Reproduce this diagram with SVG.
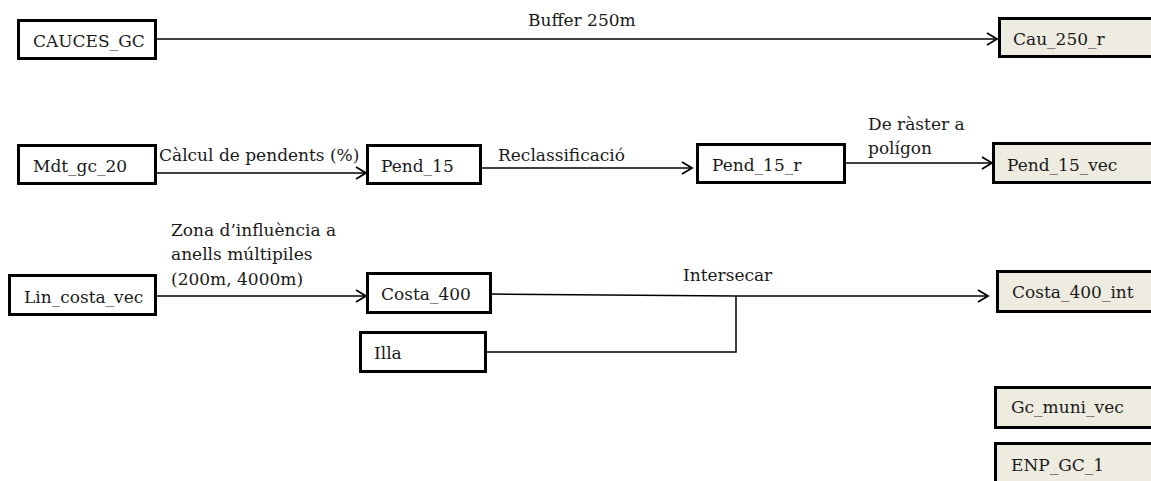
<svg xmlns="http://www.w3.org/2000/svg" width="1151" height="481" viewBox="0 0 1151 481">
<style>
  .box { fill: #ffffff; stroke: #000000; stroke-width: 3; }
  .out { fill: #EEECE1; stroke: #000000; stroke-width: 3; }
  text { font-family: "DejaVu Serif", "Liberation Serif", serif; font-size: 17px; fill: #1a1a1a; }
  .conn { fill: none; stroke: #000000; stroke-width: 1.5; }
</style>
<defs>
  <marker id="arr" markerUnits="userSpaceOnUse" markerWidth="14" markerHeight="16" refX="11" refY="7" orient="auto">
    <path d="M1,1 L11,7 L1,13" fill="none" stroke="#000000" stroke-width="1.8"/>
  </marker>
</defs>
<rect width="1151" height="481" fill="#ffffff"/>

<g id="connectors">
  <line class="conn" x1="156" y1="39" x2="997" y2="39" marker-end="url(#arr)"/>
  <line class="conn" x1="156" y1="173" x2="366" y2="173" marker-end="url(#arr)"/>
  <line class="conn" x1="481" y1="168" x2="692" y2="168" marker-end="url(#arr)"/>
  <line class="conn" x1="845" y1="163" x2="992" y2="163" marker-end="url(#arr)"/>
  <line class="conn" x1="156" y1="296" x2="366" y2="296" marker-end="url(#arr)"/>
  <polyline class="conn" points="491,294 736,296"/>
  <polyline class="conn" points="486,352 736,352 736,296"/>
  <line class="conn" x1="736" y1="296" x2="988" y2="296" marker-end="url(#arr)"/>
  <text x="528" y="26">Buffer 250m</text>
  <text x="159" y="161">Càlcul de pendents (%)</text>
  <text x="498" y="161">Reclassificació</text>
  <text x="868" y="129.5">De ràster a</text>
  <text x="868" y="153.5">polígon</text>
  <text x="171" y="235.5">Zona d’influència a</text>
  <text x="171" y="260">anells múltipiles</text>
  <text x="171" y="284.5">(200m, 4000m)</text>
  <text x="683" y="281">Intersecar</text>
</g>

<g id="node-cauces">
  <rect class="box" x="18.5" y="20.5" width="137" height="38"/>
  <text x="33" y="46.5">CAUCES_GC</text>
</g>
<g id="node-cau250r">
  <rect class="out" x="999.5" y="18.5" width="170" height="38"/>
  <text x="1013" y="45">Cau_250_r</text>
</g>
<g id="node-mdt">
  <rect class="box" x="18.5" y="145.5" width="137" height="38"/>
  <text x="33" y="172">Mdt_gc_20</text>
</g>
<g id="node-pend15">
  <rect class="box" x="367.5" y="145.5" width="113" height="38"/>
  <text x="381" y="172">Pend_15</text>
</g>
<g id="node-pend15r">
  <rect class="box" x="697.5" y="144.5" width="147" height="38"/>
  <text x="712" y="171">Pend_15_r</text>
</g>
<g id="node-pend15vec">
  <rect class="out" x="993.5" y="143.5" width="170" height="39"/>
  <text x="1007" y="171">Pend_15_vec</text>
</g>
<g id="node-lincosta">
  <rect class="box" x="9.5" y="275.5" width="146" height="39"/>
  <text x="24" y="303">Lin_costa_vec</text>
</g>
<g id="node-costa400">
  <rect class="box" x="367.5" y="273.5" width="123" height="39"/>
  <text x="381" y="300">Costa_400</text>
</g>
<g id="node-illa">
  <rect class="box" x="360.5" y="332.5" width="125" height="39"/>
  <text x="374" y="359">Illa</text>
</g>
<g id="node-costa400int">
  <rect class="out" x="997.5" y="271.5" width="170" height="40"/>
  <text x="1012" y="298">Costa_400_int</text>
</g>
<g id="node-gcmuni">
  <rect class="out" x="995.5" y="387.5" width="170" height="40"/>
  <text x="1011" y="413">Gc_muni_vec</text>
</g>
<g id="node-enp">
  <rect class="out" x="995.5" y="443.5" width="170" height="50"/>
  <text x="1011" y="471">ENP_GC_1</text>
</g>
</svg>
